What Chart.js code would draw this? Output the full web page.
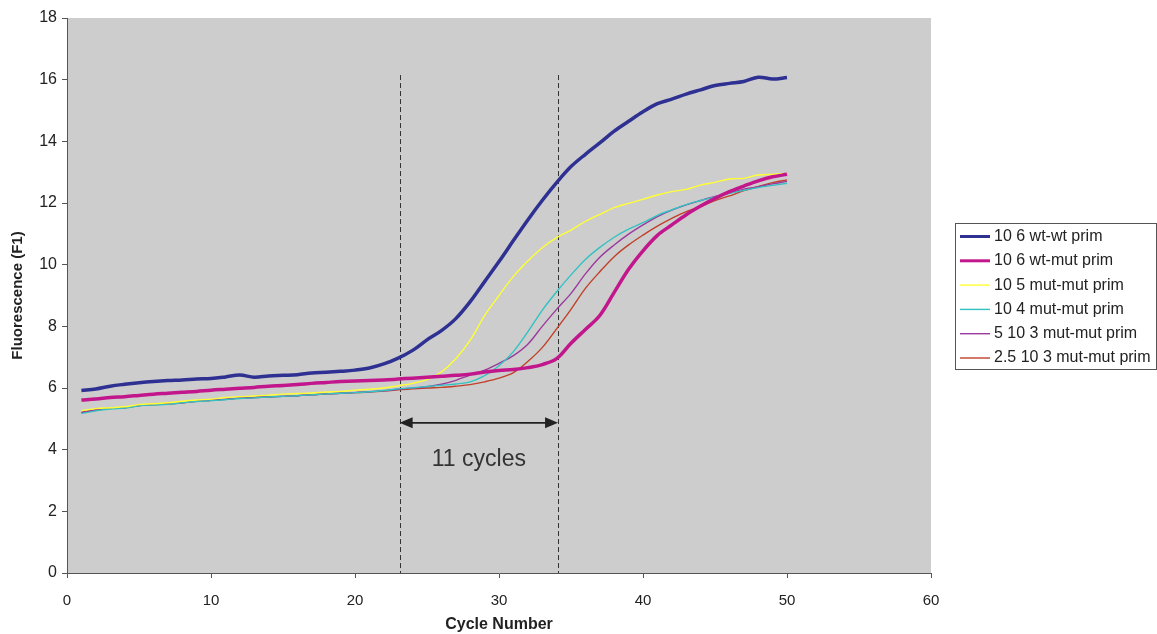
<!DOCTYPE html>
<html>
<head>
<meta charset="utf-8">
<script src="https://cdn.jsdelivr.net/npm/chart.js@4/dist/chart.umd.min.js"></script>
<style>
  html, body { margin: 0; padding: 0; background: #ffffff; }
  #wrap { width: 1157px; height: 634px; position: relative; }
</style>
</head>
<body>
<div id="wrap"><canvas id="c" width="1157" height="634"></canvas></div>
<script>
const cycles = [1,2,3,4,5,6,7,8,9,10,11,12,13,14,15,16,17,18,19,20,21,22,23,24,25,26,27,28,29,30,31,32,33,34,35,36,37,38,39,40,41,42,43,44,45,46,47,48,49,50];

const seriesNames = ["10 6 wt-wt prim", "10 6 wt-mut prim", "10 5 mut-mut prim", "10 4 mut-mut prim", "5 10 3 mut-mut prim", "2.5 10 3 mut-mut prim"];

const wtWt6 = [5.92,5.97,6.06,6.12,6.17,6.21,6.24,6.26,6.29,6.31,6.36,6.42,6.35,6.39,6.41,6.43,6.49,6.51,6.54,6.58,6.65,6.78,6.97,7.22,7.56,7.86,8.25,8.80,9.45,10.10,10.78,11.45,12.08,12.66,13.18,13.58,13.95,14.33,14.65,14.96,15.22,15.37,15.53,15.67,15.81,15.88,15.94,16.08,16.02,16.07];
const wtMut6 = [5.61,5.64,5.69,5.72,5.76,5.80,5.83,5.86,5.89,5.93,5.96,5.99,6.02,6.06,6.08,6.11,6.15,6.18,6.21,6.23,6.24,6.26,6.29,6.32,6.35,6.38,6.41,6.45,6.52,6.57,6.60,6.66,6.76,6.95,7.45,7.90,8.35,9.10,9.85,10.45,10.95,11.29,11.62,11.90,12.15,12.37,12.55,12.72,12.85,12.93];
const mutMut5 = [5.27,5.33,5.36,5.39,5.46,5.49,5.52,5.57,5.61,5.64,5.69,5.72,5.74,5.77,5.80,5.82,5.84,5.87,5.89,5.93,5.96,6.00,6.07,6.15,6.27,6.52,6.95,7.55,8.35,9.00,9.62,10.12,10.55,10.88,11.12,11.40,11.63,11.85,11.99,12.12,12.26,12.37,12.44,12.58,12.67,12.78,12.80,12.91,12.93,12.96];
const mutMut4 = [5.17,5.26,5.32,5.35,5.42,5.45,5.47,5.52,5.56,5.59,5.62,5.66,5.68,5.71,5.73,5.75,5.78,5.81,5.83,5.85,5.88,5.92,5.97,6.01,6.05,6.09,6.13,6.20,6.40,6.72,7.18,7.82,8.52,9.12,9.67,10.17,10.56,10.89,11.15,11.36,11.60,11.78,11.95,12.08,12.20,12.31,12.41,12.50,12.57,12.64];
const mutMut5e3 = [5.20,5.28,5.34,5.36,5.43,5.46,5.48,5.52,5.57,5.60,5.63,5.67,5.69,5.71,5.73,5.75,5.78,5.81,5.83,5.85,5.88,5.91,5.96,6.00,6.04,6.12,6.25,6.42,6.58,6.80,7.05,7.42,8.00,8.55,9.07,9.70,10.24,10.64,10.99,11.29,11.56,11.77,11.94,12.08,12.21,12.32,12.45,12.53,12.62,12.70];
const mutMut25e3 = [5.21,5.29,5.34,5.36,5.43,5.46,5.48,5.52,5.57,5.60,5.63,5.67,5.69,5.71,5.73,5.75,5.78,5.81,5.83,5.85,5.87,5.90,5.94,5.97,6.00,6.02,6.06,6.11,6.20,6.32,6.50,6.86,7.31,7.92,8.55,9.23,9.77,10.26,10.64,10.96,11.25,11.50,11.72,11.88,12.08,12.23,12.40,12.53,12.66,12.75];

const xTicks = [0,10,20,30,40,50,60];
const yTicks = [0,2,4,6,8,10,12,14,16,18];

// annotation values (in data units)
const markerCycles = [23.1, 34.1];
const markerTop = 16.15;
const arrowLevel = 4.87;
const arrowText = "11 cycles";
const arrowTextLevel = 3.67;

const seriesValues = [wtWt6, wtMut6, mutMut5, mutMut4, mutMut5e3, mutMut25e3];
const seriesColors = ["#2e3192", "#c2178c", "#ffff33", "#33c2c2", "#9a3a9e", "#c0402a"];
const seriesWidths = [3.5, 3.5, 1.4, 1.4, 1.4, 1.4];

const FONT = "'Liberation Sans', Arial, Helvetica, sans-serif";

const datasets = seriesValues.map((vals, i) => ({
  label: seriesNames[i],
  data: vals.map((v, j) => ({ x: cycles[j], y: v })),
  borderColor: seriesColors[i],
  backgroundColor: seriesColors[i],
  borderWidth: seriesWidths[i],
  pointRadius: 0,
  tension: 0.35,
  fill: false
}));

const bgPlugin = {
  id: 'plotBg',
  beforeDraw(chart) {
    const { ctx, chartArea: a } = chart;
    ctx.save();
    ctx.fillStyle = '#cdcdcd';
    ctx.fillRect(a.left, a.top, a.right - a.left, a.bottom - a.top);
    ctx.restore();
  }
};

const annoPlugin = {
  id: 'anno',
  beforeDatasetsDraw(chart) {
    const { ctx, scales: { x, y } } = chart;
    ctx.save();
    ctx.strokeStyle = '#333333';
    ctx.lineWidth = 1;
    ctx.setLineDash([5, 3]);
    markerCycles.forEach(c => {
      const px = Math.round(x.getPixelForValue(c)) + 0.5;
      ctx.beginPath();
      ctx.moveTo(px, y.getPixelForValue(markerTop));
      ctx.lineTo(px, y.getPixelForValue(0));
      ctx.stroke();
    });
    ctx.restore();
  },
  afterDatasetsDraw(chart) {
    const { ctx, scales: { x, y } } = chart;
    const x1 = x.getPixelForValue(markerCycles[0]);
    const x2 = x.getPixelForValue(markerCycles[1]);
    const py = y.getPixelForValue(arrowLevel);
    ctx.save();
    ctx.strokeStyle = '#222222';
    ctx.fillStyle = '#222222';
    ctx.lineWidth = 1.6;
    ctx.beginPath();
    ctx.moveTo(x1 + 8, py);
    ctx.lineTo(x2 - 8, py);
    ctx.stroke();
    ctx.beginPath();
    ctx.moveTo(x1, py);
    ctx.lineTo(x1 + 13, py - 5.5);
    ctx.lineTo(x1 + 13, py + 5.5);
    ctx.closePath();
    ctx.fill();
    ctx.beginPath();
    ctx.moveTo(x2, py);
    ctx.lineTo(x2 - 13, py - 5.5);
    ctx.lineTo(x2 - 13, py + 5.5);
    ctx.closePath();
    ctx.fill();
    ctx.font = '23px ' + FONT;
    ctx.fillStyle = '#333333';
    ctx.textAlign = 'center';
    ctx.textBaseline = 'middle';
    ctx.fillText(arrowText, (x1 + x2) / 2, y.getPixelForValue(arrowTextLevel));
    ctx.restore();
  }
};

const legendPlugin = {
  id: 'boxLegend',
  afterDraw(chart) {
    const { ctx } = chart;
    const left = 955.5, top = 223.5, w = 201, h = 146;
    ctx.save();
    ctx.fillStyle = '#ffffff';
    ctx.fillRect(left, top, w, h);
    ctx.strokeStyle = '#555555';
    ctx.lineWidth = 1;
    ctx.strokeRect(left, top, w, h);
    ctx.font = '16px ' + FONT;
    ctx.textAlign = 'left';
    ctx.textBaseline = 'middle';
    chart.data.datasets.forEach((ds, i) => {
      const cy = 236.5 + i * 24.3;
      ctx.strokeStyle = ds.borderColor;
      ctx.lineWidth = i < 2 ? 3 : 1.4;
      ctx.beginPath();
      ctx.moveTo(960, cy);
      ctx.lineTo(990, cy);
      ctx.stroke();
      ctx.fillStyle = '#222222';
      ctx.fillText(ds.label, 994, cy);
    });
    ctx.restore();
  }
};

new Chart(document.getElementById('c'), {
  type: 'line',
  data: { datasets },
  plugins: [bgPlugin, annoPlugin, legendPlugin],
  options: {
    responsive: false,
    animation: false,
    devicePixelRatio: 1,
    layout: { padding: { left: 0, right: 226, top: 18, bottom: 0 } },
    plugins: {
      legend: { display: false },
      tooltip: { enabled: false }
    },
    scales: {
      x: {
        type: 'linear',
        min: 0, max: 60,
        afterBuildTicks(scale) { scale.ticks = xTicks.map(v => ({ value: v })); },
        afterFit(scale) { scale.height = 61; },
        grid: { display: true, drawOnChartArea: false, drawTicks: true, tickLength: 5, color: '#555555' },
        border: { display: true, color: '#555555', width: 1 },
        ticks: { color: '#222222', font: { family: FONT, size: 15 }, padding: 14, maxRotation: 0 },
        title: { display: true, text: 'Cycle Number', color: '#222222', font: { family: FONT, size: 16, weight: 'bold' }, padding: { top: 0, bottom: 0 } }
      },
      y: {
        type: 'linear',
        min: 0, max: 18,
        afterBuildTicks(scale) { scale.ticks = yTicks.map(v => ({ value: v })); },
        afterFit(scale) { scale.width = 67; },
        grid: { display: true, drawOnChartArea: false, drawTicks: true, tickLength: 5, color: '#555555' },
        border: { display: true, color: '#555555', width: 1 },
        ticks: { color: '#222222', font: { family: FONT, size: 16 }, padding: 5 },
        title: { display: true, text: 'Fluorescence (F1)', color: '#222222', font: { family: FONT, size: 15, weight: 'bold' }, padding: { top: 9, bottom: 0 } }
      }
    }
  }
});
</script>
</body>
</html>
